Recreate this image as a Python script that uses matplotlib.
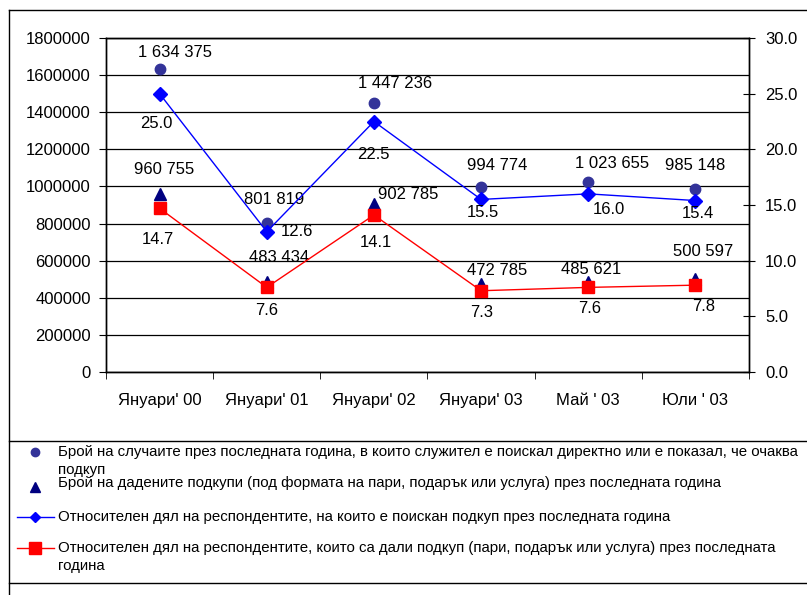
import matplotlib.pyplot as plt
from matplotlib.lines import Line2D
from matplotlib.ticker import FuncFormatter
import numpy as np

plt.rcParams['font.family'] = ['Liberation Sans', 'DejaVu Sans']

# data
periods = ["Януари' 00", "Януари' 01", "Януари' 02", "Януари' 03", "Май ' 03", "Юли ' 03"]
asked_cases = [1634375, 801819, 1447236, 994774, 1023655, 985148]
given_bribes = [960755, 483434, 902785, 472785, 485621, 500597]
share_asked = [25.0, 12.6, 22.5, 15.5, 16.0, 15.4]
share_given = [14.7, 7.6, 14.1, 7.3, 7.6, 7.8]

legend_labels = [
    "Брой на случаите през последната година, в които служител е поискал директно или е показал, че очаква\nподкуп",
    "Брой на дадените подкупи (под формата на пари, подарък или услуга) през последната година",
    "Относителен дял на респондентите, на които е поискан подкуп през последната година",
    "Относителен дял на респондентите, които са дали подкуп (пари, подарък или услуга) през последната\nгодина",
]

# label offsets in pixels (dx, dy down)
off_cases = [(15, -16), (7, -24), (21, -20), (16, -22), (24, -19), (0, -24)]
off_given = [(5, -24), (12, -25), (34, -10), (16, -14), (3, -12), (8, -28)]
off_sh_asked = [(-3, 30), (30, 0), (-1, 33), (2, 13), (21, 16), (2, 13)]
off_sh_given = [(-2, 31), (0, 23), (2, 27), (1, 22), (1, 21), (8, 21)]

W, H = 807, 595
fig = plt.figure(figsize=(W / 100, H / 100), dpi=100)
ax = fig.add_axes([106 / W, 1 - 372 / H, (749 - 106) / W, (372 - 38) / H])
ax2 = ax.twinx()

x = np.arange(len(periods))

def fmt(v):
    return f"{v:,}".replace(",", " ")

ax.set_ylim(0, 1800000)
ax.set_yticks(np.arange(0, 1800001, 200000))
ax.yaxis.set_major_formatter(FuncFormatter(lambda v, p: f"{int(v)}"))
ax.set_xlim(-0.5, len(periods) - 0.5)
ax.grid(axis='y', color='black', lw=0.9)
ax.set_axisbelow(True)

ax.plot(x, asked_cases, 'o', color='#333399', ms=7.5, ls='none', zorder=3)
ax.plot(x, given_bribes, '^', color='#000080', ms=8.5, ls='none', zorder=3)

ax2.set_ylim(0, 30)
ax2.set_yticks(np.arange(0, 30.1, 5))
ax2.set_yticklabels([f"{v:.1f}" for v in np.arange(0, 30.1, 5)])
ax2.plot(x, share_asked, '-D', color='#0000FF', lw=1, ms=7, zorder=3)
ax2.plot(x, share_given, '-s', color='#FF0000', lw=1, ms=9, zorder=3)

for i in range(len(x)):
    ax.annotate(fmt(asked_cases[i]), (x[i], asked_cases[i]), xytext=(off_cases[i][0], -off_cases[i][1]),
                textcoords='offset pixels', ha='center', va='center', fontsize=12)
    ax.annotate(fmt(given_bribes[i]), (x[i], given_bribes[i]), xytext=(off_given[i][0], -off_given[i][1]),
                textcoords='offset pixels', ha='center', va='center', fontsize=12)
    ax2.annotate(f"{share_asked[i]:.1f}", (x[i], share_asked[i]), xytext=(off_sh_asked[i][0], -off_sh_asked[i][1]),
                 textcoords='offset pixels', ha='center', va='center', fontsize=12)
    ax2.annotate(f"{share_given[i]:.1f}", (x[i], share_given[i]), xytext=(off_sh_given[i][0], -off_sh_given[i][1]),
                 textcoords='offset pixels', ha='center', va='center', fontsize=12)

# axes styling
ax.set_xticks(x)
ax.set_xticklabels(periods, fontsize=12)
ax.set_xticks(np.arange(-0.5, len(periods)), minor=True)
ax.tick_params(axis='x', which='major', length=0, pad=15)
ax.tick_params(axis='x', which='minor', length=5, direction='out', color='black')
ax.tick_params(axis='y', labelsize=12, length=5, pad=6, color='black')
ax2.tick_params(axis='y', labelsize=12, length=9, direction='inout', pad=7, color='black')
for a in (ax, ax2):
    for s in a.spines.values():
        s.set_color('black')
        s.set_linewidth(1)

# frame and legend box
def hline(y, x0=9, x1=W):
    fig.add_artist(Line2D([x0 / W, x1 / W], [1 - y / H, 1 - y / H], color='black', lw=1, transform=fig.transFigure))

hline(10)
hline(441)
hline(583)
fig.add_artist(Line2D([9 / W, 9 / W], [1 - 10 / H, 0], color='black', lw=1, transform=fig.transFigure))

def fx(px):
    return px / W

def fy(py):
    return 1 - py / H

# legend entries
fig.add_artist(Line2D([fx(35)], [fy(452)], marker='o', color='#333399', ms=6, ls='none', transform=fig.transFigure))
fig.add_artist(Line2D([fx(35)], [fy(487)], marker='^', color='#000080', ms=7, ls='none', transform=fig.transFigure))
fig.add_artist(Line2D([fx(17), fx(54)], [fy(517), fy(517)], color='#0000FF', lw=1, transform=fig.transFigure))
fig.add_artist(Line2D([fx(35)], [fy(517)], marker='D', color='#0000FF', ms=5, ls='none', transform=fig.transFigure))
fig.add_artist(Line2D([fx(17), fx(54)], [fy(548), fy(548)], color='#FF0000', lw=1, transform=fig.transFigure))
fig.add_artist(Line2D([fx(35)], [fy(548)], marker='s', color='#FF0000', ms=9, ls='none', transform=fig.transFigure))

leg_y = [452, 483, 517, 548]
for lab, yy in zip(legend_labels, leg_y):
    for k, ln in enumerate(lab.split('\n')):
        fig.text(fx(58), fy(yy + k * 18), ln, fontsize=10.8, ha='left', va='center')

fig.savefig('out.png', dpi=100)
